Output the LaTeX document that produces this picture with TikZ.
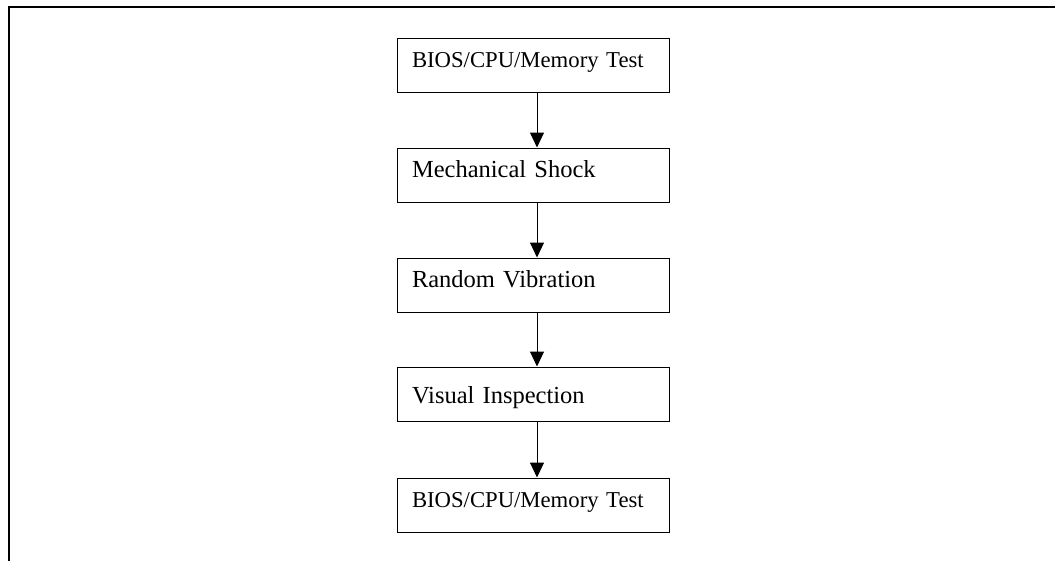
\documentclass[tikz,border=0pt]{standalone}
\usepackage{fontspec}
\setmainfont{Liberation Serif}
\usetikzlibrary{arrows.meta}
\begin{document}
\begin{tikzpicture}[x=1pt,y=-1pt,
  stagebox/.style={draw=black, line width=1pt, minimum width=272pt, minimum height=54pt,
    inner xsep=15pt, inner ysep=0pt, text width=242pt, align=left,
    text height=15pt, text depth=10pt,
    font=\fontsize{22.7}{27}\selectfont},
  bigtext/.style={font=\fontsize{24.5}{29}\selectfont},
  flowarrow/.style={draw=black, line width=1pt, -{Triangle[width=14pt,length=15pt]}},
  frameline/.style={draw=black, line width=2pt}]
\useasboundingbox (0,0) rectangle (1055,560);
\coordinate (fb) at (9,561);
\coordinate (fc) at (9,7);
\coordinate (fr) at (1056,7);
\draw[frameline] (fb) -- (fc) -- (fr);
\node[stagebox] (b1) at (533,65) {BIOS/CPU/Memory Test};
\node[stagebox, bigtext] (b2) at (533,175) {Mechanical Shock};
\node[stagebox, bigtext] (b3) at (533,285) {Random Vibration};
\node[stagebox, bigtext, text height=20pt, text depth=2pt] (b4) at (533,394) {Visual Inspection};
\node[stagebox] (b5) at (533,505) {BIOS/CPU/Memory Test};
\draw[flowarrow] ([xshift=4pt]b1.south) -- ([xshift=4pt]b2.north);
\draw[flowarrow] ([xshift=4pt]b2.south) -- ([xshift=4pt]b3.north);
\draw[flowarrow] ([xshift=4pt]b3.south) -- ([xshift=4pt]b4.north);
\draw[flowarrow] ([xshift=4pt]b4.south) -- ([xshift=4pt]b5.north);
\end{tikzpicture}
\end{document}
